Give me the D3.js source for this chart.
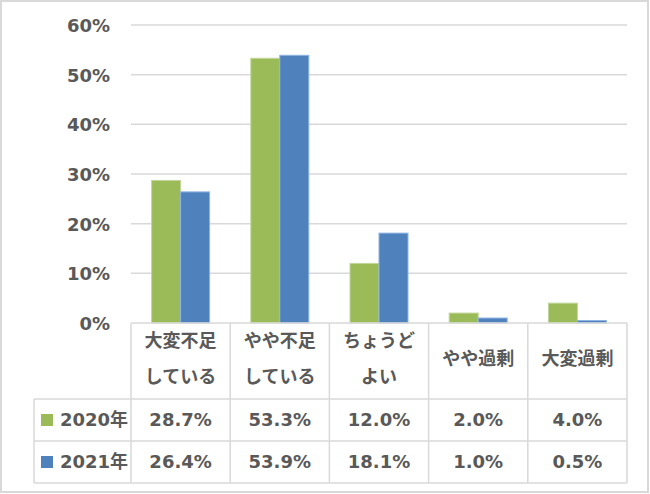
<!DOCTYPE html>
<html>
<head>
<meta charset="utf-8">
<script src="https://cdn.jsdelivr.net/npm/d3@7"></script>
<style>
  body { margin: 0; background: #fff; }
  text { font-family: "DejaVu Sans", "Noto Sans CJK JP", sans-serif; font-weight: bold; fill: #595959; }
</style>
</head>
<body>
<div id="chart"></div>
<script>
const WIDTH = 650
const HEIGHT = 494

// data
const categories = ["大変不足\nしている", "やや不足\nしている", "ちょうど\nよい", "やや過剰", "大変過剰"]
const series = ["2020年", "2021年"]
const v2020 = [28.7, 53.3, 12.0, 2.0, 4.0]
const v2021 = [26.4, 53.9, 18.1, 1.0, 0.5]
const yTicks = [0, 10, 20, 30, 40, 50, 60]
const colors = ["#9bbb59", "#4f81bd"]
const strokes = ["#c3d69b", "#8eb4e3"]

const values = [v2020, v2021]

const svg = d3.select("#chart")
    .append("svg")
    .attr("width", WIDTH)
    .attr("height", HEIGHT)

// outer frame
svg.append("rect")
    .attr("x", 1).attr("y", 1)
    .attr("width", WIDTH - 3).attr("height", HEIGHT - 3)
    .attr("fill", "#fff")
    .attr("stroke", "#d9d9d9")
    .attr("stroke-width", 2)

const x = d3.scaleBand()
    .domain(categories)
    .range([131, 627])

const x1 = d3.scaleBand()
    .domain(series)
    .range([0, x.bandwidth()])
    .paddingOuter(0.71)

const y = d3.scaleLinear()
    .domain([0, 60])
    .range([323, 25])

// gridlines
svg.append("g")
    .selectAll("line")
    .data(yTicks.slice(1))
    .enter()
    .append("line")
    .attr("x1", 131).attr("x2", 627)
    .attr("y1", d => y(d)).attr("y2", d => y(d))
    .attr("stroke", "#d9d9d9")
    .attr("stroke-width", 1.5)

// y axis labels
const yAxis = svg.append("g")
    .attr("transform", "translate(110,0)")
    .call(d3.axisLeft(y).tickValues(yTicks).tickFormat(d => d + "%").tickSize(0).tickPadding(0))
yAxis.select(".domain").remove()
yAxis.selectAll("text")
    .attr("font-size", 18)
    .attr("font-family", null)
    .attr("fill", "#595959")
    .attr("dy", "0.36em")

// bars
series.forEach((s, si) => {
    svg.append("g")
        .selectAll("rect")
        .data(values[si])
        .enter()
        .append("rect")
        .attr("x", (d, i) => x(categories[i]) + x1(s))
        .attr("y", d => y(d))
        .attr("width", x1.bandwidth())
        .attr("height", d => y(0) - y(d))
        .attr("fill", colors[si])
        .attr("stroke", strokes[si])
        .attr("stroke-width", 1)
})

// data table
const tableTop = 323
const headerBottom = 399
const rowH = 42
const leftX = 34
const gridColor = "#d9d9d9"
const tg = svg.append("g")

// horizontal lines
tg.append("line").attr("x1", 131).attr("x2", 627).attr("y1", tableTop).attr("y2", tableTop)
    .attr("stroke", gridColor).attr("stroke-width", 1.5)
;[0, 1, 2].forEach(r => {
    tg.append("line")
        .attr("x1", leftX).attr("x2", 627)
        .attr("y1", headerBottom + r * rowH).attr("y2", headerBottom + r * rowH)
        .attr("stroke", gridColor).attr("stroke-width", 1.5)
})
// vertical lines
tg.append("line").attr("x1", leftX).attr("x2", leftX)
    .attr("y1", headerBottom).attr("y2", headerBottom + 2 * rowH)
    .attr("stroke", gridColor).attr("stroke-width", 1.5)
tg.selectAll(".vline")
    .data(categories.concat(["end"]))
    .enter()
    .append("line")
    .attr("x1", (d, i) => i < categories.length ? x(d) : x.range()[1])
    .attr("x2", (d, i) => i < categories.length ? x(d) : x.range()[1])
    .attr("y1", tableTop).attr("y2", headerBottom + 2 * rowH)
    .attr("stroke", gridColor).attr("stroke-width", 1.5)

// category labels
categories.forEach(c => {
    const lines = c.split("\n")
    const cx = x(c) + x.bandwidth() / 2
    const t = tg.append("text")
        .attr("text-anchor", "middle")
        .attr("font-size", 18)
        .attr("font-family", "'Noto Sans CJK JP', sans-serif")
    if (lines.length === 1) {
        t.append("tspan").attr("x", cx).attr("y", 359).attr("dy", "0.36em").text(lines[0])
    } else {
        lines.forEach((l, li) => {
            t.append("tspan").attr("x", cx).attr("y", 341 + li * 36).attr("dy", "0.36em").text(l)
        })
    }
})

// series rows
series.forEach((s, si) => {
    const cy = headerBottom + si * rowH + rowH / 2
    tg.append("rect")
        .attr("x", 41).attr("y", cy - 6)
        .attr("width", 12).attr("height", 12)
        .attr("fill", colors[si])
    const lt = tg.append("text")
        .attr("x", 60).attr("y", cy).attr("dy", "0.36em")
        .attr("font-size", 18)
    lt.append("tspan").text(s.replace("年", ""))
    lt.append("tspan").attr("font-family", "'Noto Sans CJK JP', sans-serif").text("年")
    tg.append("g")
        .selectAll("text")
        .data(values[si])
        .enter()
        .append("text")
        .attr("x", (d, i) => x(categories[i]) + x.bandwidth() / 2)
        .attr("y", cy).attr("dy", "0.36em")
        .attr("text-anchor", "middle")
        .attr("font-size", 18)
        .text(d => d.toFixed(1) + "%")
})
</script>
</body>
</html>
